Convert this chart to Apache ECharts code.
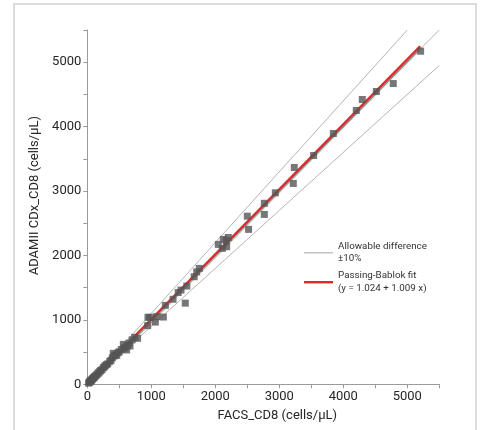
<!DOCTYPE html>
<html>
<head>
<meta charset="utf-8">
<script src="https://cdn.jsdelivr.net/npm/echarts@6/dist/echarts.min.js"></script>
<style>html,body{margin:0;padding:0;background:#fff}#c{width:480px;height:430px}</style>
</head>
<body>
<div id="c"></div>
<script>
// FACS_CD8 (x) vs ADAMII CDx_CD8 (y), cells/µL
const facsValues = [20,30,40,45,55,60,70,80,90,100,110,120,135,150,165,180,195,210,230,250,265,280,300,320,350,370,390,406,420,440,460,480,500,530,563,575,589,615,625,650,667,700,740,786,
  943,948,979,1063,1083,1188,1220,1340,1420,1464,1531,1555,1670,1709,1750,
  2047,2110,2125,2170,2177,2203,2500,2520,2766,2766,2938,3219,3234,3536,3844,4203,4297,4516,4781,5208];
const adamValues = [18,32,38,50,52,65,68,85,88,104,115,118,140,148,172,178,200,215,228,258,270,290,305,318,355,372,410,481,440,455,450,490,505,540,620,560,574,533,600,640,595,690,729,714,
  910,1040,1040,966,1050,1044,1225,1320,1425,1463,1260,1525,1670,1745,1799,
  2172,2110,2250,2230,2135,2280,2610,2405,2810,2637,2973,3118,3366,3552,3893,4250,4421,4545,4669,5171];
const identityLine = [[0,0],[5500,5500]];
const upperLimit = [[0,0],[5000,5500]];
const lowerLimit = [[0,0],[5500,4950]];
const fitLine = [[0,1],[5200,5248]];
const xTicks = {min:0, max:5500, step:500};
const yTicks = {min:0, max:5500, step:500};
const legendNames = ['Allowable difference\n±10%', 'Passing-Bablok fit\n(y = 1.024 + 1.009 x)'];

const points = facsValues.map((x,i)=>[x, adamValues[i]]);
const FONT = 'Roboto';
const greyLine = '#b4b4b4';
const redLine = '#dd2a2a';

const chart = echarts.init(document.getElementById('c'));
const axisCommon = {
  type:'value',
  axisLine:{show:true, lineStyle:{color:'#9a9a9a', width:1}},
  axisTick:{show:true, inside:false, length:4, lineStyle:{color:'#9a9a9a'}},
  splitLine:{show:false},
  axisLabel:{color:'#262626', fontFamily:FONT, fontSize:13, margin:6,
    formatter:v => (v % 1000 === 0 ? String(v) : '')},
  nameLocation:'middle',
  nameTextStyle:{color:'#262626', fontFamily:FONT, fontSize:13}
};
chart.setOption({
  animation:false,
  backgroundColor:'#fff',
  graphic:[{type:'rect', shape:{x:14, y:4, width:462, height:450},
    style:{fill:'none', stroke:'#dcdcdc', lineWidth:2}, z:-1}],
  grid:{left:87.3, right:40.7, top:30, bottom:45.7, containLabel:false},
  xAxis:Object.assign({}, axisCommon, {min:xTicks.min, max:xTicks.max, interval:xTicks.step,
    name:'FACS_CD8 (cells/µL)', nameGap:25,
    nameTextStyle:{color:'#262626', fontFamily:FONT, fontSize:13, padding:[0,0,0,28]}}),
  yAxis:Object.assign({}, axisCommon, {min:yTicks.min, max:yTicks.max, interval:yTicks.step,
    name:'ADAMII CDx_CD8 (cells/µL)', nameGap:39,
    nameTextStyle:{color:'#262626', fontFamily:FONT, fontSize:13, padding:[0,0,0,23]}}),
  legend:[
    {data:[{name:legendNames[0], icon:'rect', itemStyle:{color:greyLine}}],
     left:304, top:233.8, padding:0, itemWidth:29, itemHeight:1.2,
     textStyle:{color:'#333', fontFamily:FONT, fontSize:9.8, lineHeight:12.5, padding:[13,0,0,0]},
     selectedMode:false},
    {data:[{name:legendNames[1], icon:'rect', itemStyle:{color:redLine}}],
     left:304, top:263.2, padding:0, itemWidth:29, itemHeight:2.4,
     textStyle:{color:'#333', fontFamily:FONT, fontSize:9.8, lineHeight:12.5, padding:[13,0,0,0]},
     selectedMode:false}
  ],
  series:[
    {type:'line', name:'identity', data:identityLine, symbol:'none', silent:true,
     lineStyle:{color:greyLine, width:1}, itemStyle:{color:greyLine}, z:1},
    {type:'line', name:legendNames[0], data:upperLimit, symbol:'none', silent:true,
     lineStyle:{color:greyLine, width:1}, itemStyle:{color:greyLine}, z:1},
    {type:'line', name:legendNames[0], data:lowerLimit, symbol:'none', silent:true,
     lineStyle:{color:greyLine, width:1}, itemStyle:{color:greyLine}, z:1},
    {type:'line', name:legendNames[1], data:fitLine, symbol:'none', silent:true,
     lineStyle:{color:redLine, width:2.4, shadowColor:'rgba(0,0,0,0.35)', shadowOffsetX:1, shadowOffsetY:1.2, shadowBlur:1},
     itemStyle:{color:redLine}, z:2},
    {type:'scatter', name:'points', data:points, symbol:'rect', symbolSize:7,
     itemStyle:{color:'#555555'}, z:3}
  ]
});
</script>
</body>
</html>
